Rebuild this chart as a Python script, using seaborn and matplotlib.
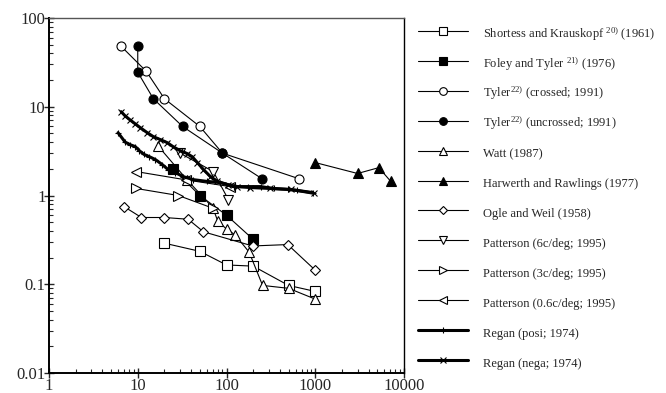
import numpy as np
import pandas as pd
import matplotlib
matplotlib.use("Agg")
import matplotlib.pyplot as plt
from matplotlib.ticker import FuncFormatter, LogLocator
import seaborn as sns

## data (x: spatial parameter, y: threshold)
shortess_x = [20, 50, 100, 200, 500, 1000]
shortess_y = [0.29, 0.235, 0.165, 0.16, 0.097, 0.083]

foley_x = [25, 50, 100, 200]
foley_y = [2.0, 1.0, 0.6, 0.32]

tyler_c_x = [6.5, 12.5, 20, 50, 90, 650]
tyler_c_y = [48, 25, 12.3, 6.0, 3.0, 1.55]

tyler_u_x = [10, 10, 15, 32, 90, 250]
tyler_u_y = [48, 24.5, 12.3, 6.0, 3.0, 1.55]

watt_x = [17, 36, 70, 80, 100, 125, 180, 255, 500, 1000]
watt_y = [3.6, 1.5, 0.73, 0.51, 0.42, 0.36, 0.23, 0.097, 0.09, 0.068]

harwerth_x = [1000, 3000, 5200, 7100]
harwerth_y = [2.35, 1.77, 2.06, 1.44]

ogle_x = [7, 11, 20, 37, 55, 197, 490, 1000]
ogle_y = [0.75, 0.565, 0.565, 0.54, 0.39, 0.27, 0.28, 0.144]

patt6_x = [30, 71, 105]
patt6_y = [3.0, 1.86, 0.9]

patt3_x = [9.6, 28.7, 70]
patt3_y = [1.2, 1.0, 0.72]

patt06_x = [9.6, 35, 110]
patt06_y = [1.86, 1.5, 1.26]

regan_p_x = [6.0, 7.2, 8.2, 9.4, 10.4, 11.8, 13.5, 15.8, 18.9, 22, 26.5, 32.7,
             42, 61, 85, 120, 173, 242, 340, 490, 630, 935]
regan_p_y = [5.1, 4.0, 3.74, 3.55, 3.2, 2.9, 2.74, 2.54, 2.23, 1.96, 1.81, 1.63,
             1.51, 1.44, 1.4, 1.26, 1.26, 1.26, 1.2, 1.17, 1.14, 1.08]

regan_n_x = [6.5, 7.2, 8.2, 9.4, 10.7, 12.8, 15, 18, 21.5, 25, 30, 36, 41, 47,
             55, 66, 79, 103, 133, 185, 310, 530, 960]
regan_n_y = [8.8, 7.9, 7.1, 6.4, 5.8, 5.1, 4.6, 4.26, 3.94, 3.55, 3.2, 2.97, 2.74,
             2.35, 1.96, 1.63, 1.44, 1.33, 1.26, 1.23, 1.2, 1.17, 1.06]

labels = [
    r"Shortess and Krauskopf $^{\mathrm{20)}}$ (1961)",
    r"Foley and Tyler $^{\mathrm{21)}}$ (1976)",
    r"Tyler$^{\mathrm{22)}}$ (crossed; 1991)",
    r"Tyler$^{\mathrm{22)}}$ (uncrossed; 1991)",
    "Watt (1987)",
    "Harwerth and Rawlings (1977)",
    "Ogle and Weil (1958)",
    "Patterson (6c/deg; 1995)",
    "Patterson (3c/deg; 1995)",
    "Patterson (0.6c/deg; 1995)",
    "Regan (posi; 1974)",
    "Regan (nega; 1974)",
]

sns.set_style("ticks")
plt.rcParams['font.family'] = ['Liberation Serif', 'DejaVu Serif']
plt.rcParams['mathtext.fontset'] = 'custom'
plt.rcParams['mathtext.rm'] = 'Liberation Serif'
plt.rcParams['mathtext.it'] = 'Liberation Serif:italic'

fig = plt.figure(figsize=(6.66, 3.93), dpi=100)
ax = fig.add_axes([49/666, 1 - 373/393, (404 - 49)/666, (373 - 18)/393])

# (x, y, marker, face, size, linewidth)
series = [
    (shortess_x, shortess_y, 's', 'white', 6.5, 0.8),
    (foley_x, foley_y, 's', 'black', 6.5, 0.8),
    (tyler_c_x, tyler_c_y, 'o', 'white', 6.5, 0.8),
    (tyler_u_x, tyler_u_y, 'o', 'black', 6.5, 0.8),
    (watt_x, watt_y, '^', 'white', 6.5, 0.8),
    (harwerth_x, harwerth_y, '^', 'black', 6.5, 0.8),
    (ogle_x, ogle_y, 'D', 'white', 5.0, 0.8),
    (patt6_x, patt6_y, 'v', 'white', 6.5, 0.8),
    (patt3_x, patt3_y, '>', 'white', 6.5, 0.8),
    (patt06_x, patt06_y, '<', 'white', 6.5, 0.8),
    (regan_p_x, regan_p_y, '+', 'black', 5.0, 2.2),
    (regan_n_x, regan_n_y, 'x', 'black', 4.5, 2.2),
]

for (xs, ys, mk, face, ms, lw), lab in zip(series, labels):
    df = pd.DataFrame({'x': xs, 'y': ys})
    sns.lineplot(data=df, x='x', y='y', ax=ax, estimator=None, sort=False,
                 color='black', lw=lw, marker=mk, markersize=ms,
                 markerfacecolor=face, mec='black', mew=0.8, label=lab)

ax.set_xscale('log')
ax.set_yscale('log')
ax.set_xlim(1, 10000)
ax.set_ylim(0.01, 100)
ax.set_xlabel('')
ax.set_ylabel('')

fmt = FuncFormatter(lambda v, p: '{:g}'.format(v))
ax.xaxis.set_major_formatter(fmt)
ax.yaxis.set_major_formatter(fmt)
ax.xaxis.set_minor_locator(LogLocator(base=10, subs=np.arange(2, 10)))
ax.yaxis.set_minor_locator(LogLocator(base=10, subs=np.arange(2, 10)))
ax.xaxis.set_minor_formatter(FuncFormatter(lambda v, p: ''))
ax.yaxis.set_minor_formatter(FuncFormatter(lambda v, p: ''))
ax.tick_params(which='major', direction='inout', length=7, width=1, labelsize=12)
ax.tick_params(axis='y', which='major', pad=-1)
ax.tick_params(axis='x', which='major', pad=0)
ax.tick_params(which='minor', direction='in', length=3, width=0.8)
for s in ax.spines.values():
    s.set_linewidth(1.0)
    s.set_color('black')
ax.spines['left'].set_linewidth(1.4)
ax.spines['bottom'].set_linewidth(1.4)
ax.spines['top'].set_color('#555555')

ax.legend(loc='upper left', bbox_to_anchor=(418/666, 1 - 24/393),
          bbox_transform=fig.transFigure, frameon=False, fontsize=9,
          handlelength=4.0, handletextpad=1.2, labelspacing=0.85,
          handleheight=2.0, borderpad=0, borderaxespad=0, markerscale=0.85)

fig.savefig('out.png', dpi=100)
